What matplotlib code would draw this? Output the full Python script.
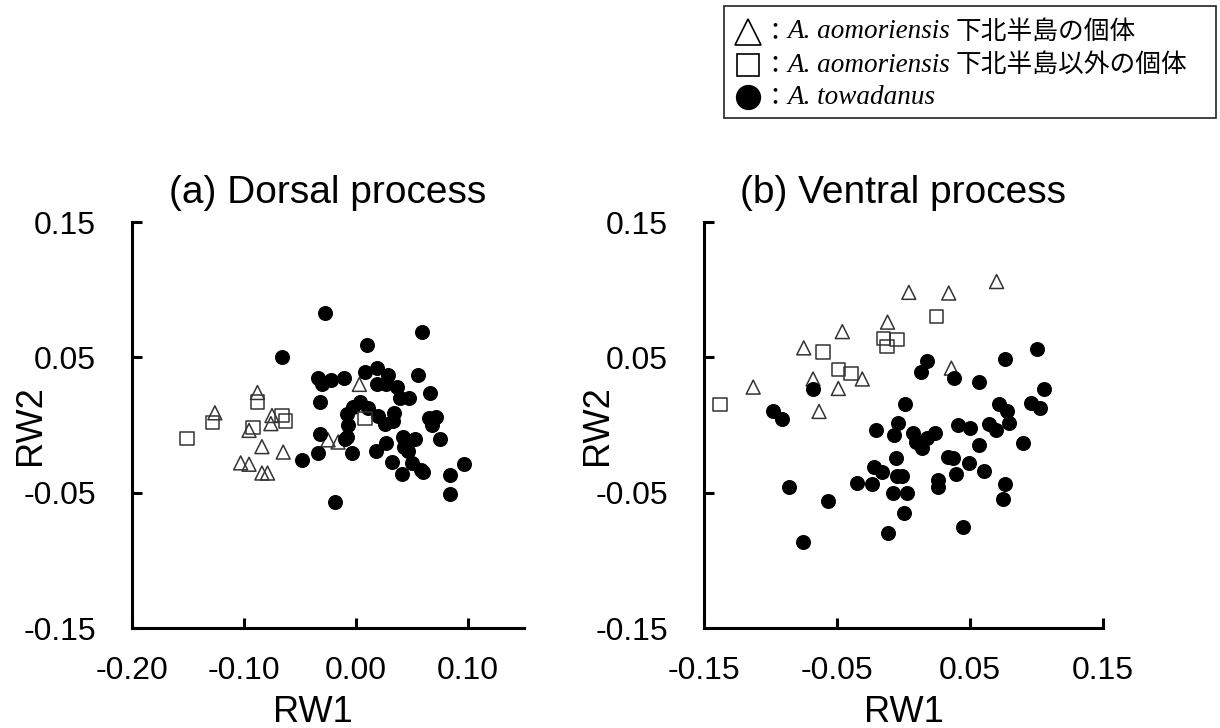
import matplotlib
matplotlib.use("Agg")
import matplotlib.pyplot as plt
from matplotlib.lines import Line2D
from matplotlib.patches import Rectangle

plt.rcParams['font.family'] = ['Liberation Sans', 'DejaVu Sans']
plt.rcParams['axes.unicode_minus'] = False

# (a) Dorsal process
dorsal_shimo_x = [-0.088, -0.126, -0.075, -0.076, -0.0955, -0.084, -0.065, -0.103,
                  -0.0955, -0.084, -0.079, 0.003, -0.025, -0.016]
dorsal_shimo_y = [0.024, 0.009, 0.007, 0.001, -0.004, -0.016, -0.020, -0.028,
                  -0.029, -0.0355, -0.0355, 0.030, -0.011, -0.0126]
dorsal_other_x = [-0.088, -0.128, -0.151, -0.066, -0.063, -0.092, 0.008]
dorsal_other_y = [0.017, 0.002, -0.010, 0.007, 0.003, -0.002, 0.005]
dorsal_towa_x = [-0.028, 0.059, 0.010, -0.066, -0.034, -0.030, -0.022, -0.011, 0.008,
                 0.019, 0.029, 0.019, 0.027, 0.037, 0.039, 0.047, 0.055, 0.066,
                 -0.032, 0.004, -0.003, -0.008, -0.007, -0.008, 0.011, 0.020, 0.026,
                 0.034, 0.033, -0.032, -0.010, 0.042, 0.053, 0.043, 0.046, 0.065,
                 0.071, 0.068, 0.075, 0.027, 0.018, -0.004, -0.034, -0.048, 0.032,
                 0.050, 0.058, 0.060, 0.041, 0.096, 0.084, 0.084, -0.019]
dorsal_towa_y = [0.083, 0.069, 0.059, 0.050, 0.035, 0.030, 0.033, 0.035, 0.039,
                 0.042, 0.037, 0.030, 0.030, 0.028, 0.020, 0.020, 0.037, 0.024,
                 0.017, 0.017, 0.013, 0.008, 0.000, -0.009, 0.0125, 0.007, 0.001,
                 0.009, 0.003, -0.007, -0.010, -0.009, -0.010, -0.016, -0.019, 0.005,
                 0.006, 0.000, -0.010, -0.013, -0.019, -0.021, -0.021, -0.026, -0.027,
                 -0.028, -0.033, -0.035, -0.036, -0.029, -0.037, -0.051, -0.057]

# (b) Ventral process
ventral_shimo_x = [0.070, 0.004, 0.034, -0.012, -0.046, -0.075, -0.031, -0.068,
                   -0.049, -0.113, -0.0635, 0.036]
ventral_shimo_y = [0.106, 0.098, 0.0975, 0.076, 0.069, 0.057, 0.034, 0.034,
                   0.027, 0.028, 0.010, 0.042]
ventral_other_x = [0.025, -0.015, -0.005, -0.0124, -0.0605, -0.049, -0.0395, -0.138]
ventral_other_y = [0.080, 0.064, 0.063, 0.058, 0.054, 0.041, 0.038, 0.015]
ventral_towa_x = [0.018, 0.013, 0.076, 0.100, 0.038, 0.057, -0.068, -0.098, -0.091,
                  0.001, 0.1056, 0.072, 0.078, 0.079, 0.096, 0.103, -0.004, -0.007,
                  -0.021, 0.007, 0.0094, 0.014, 0.018, 0.0237, 0.041, 0.050, 0.064,
                  0.0696, 0.057, 0.090, 0.0335, 0.037, 0.049, 0.0605, 0.0395, -0.0056,
                  -0.022, -0.016, -0.005, -0.001, -0.035, -0.0237, 0.026, 0.026, 0.076,
                  -0.008, 0.0026, -0.086, -0.057, 0.075, 0.0003, 0.0447, -0.0117, -0.0756]
ventral_towa_y = [0.047, 0.039, 0.049, 0.056, 0.035, 0.032, 0.0266, 0.010, 0.0044,
                  0.0155, 0.0266, 0.0155, 0.010, 0.0014, 0.016, 0.0125, 0.0014, -0.0074,
                  -0.0037, -0.006, -0.0126, -0.017, -0.0096, -0.006, 0.000, -0.0023, 0.0007,
                  -0.0037, -0.0148, -0.0133, -0.0237, -0.0244, -0.028, -0.034, -0.036, -0.0244,
                  -0.031, -0.035, -0.0377, -0.0377, -0.043, -0.0437, -0.0407, -0.046, -0.0437,
                  -0.0503, -0.0503, -0.046, -0.056, -0.0547, -0.065, -0.0754, -0.080, -0.0865]

panels = [
    ("(a) Dorsal process", (-0.20, 0.15), [-0.20, -0.10, 0.00, 0.10],
     dorsal_shimo_x, dorsal_shimo_y, dorsal_other_x, dorsal_other_y, dorsal_towa_x, dorsal_towa_y),
    ("(b) Ventral process", (-0.15, 0.15), [-0.15, -0.05, 0.05, 0.15],
     ventral_shimo_x, ventral_shimo_y, ventral_other_x, ventral_other_y, ventral_towa_x, ventral_towa_y),
]
y_ticks = [-0.15, -0.05, 0.05, 0.15]

W, H = 1220, 728
fig = plt.figure(figsize=(W / 100, H / 100), dpi=100)
rects = [[132 / W, 100 / H, 392 / W, 406 / H], [704 / W, 100 / H, 399 / W, 406 / H]]
xlabel_x = [0.462, 0.5]
ylabel_x = [-0.214, -0.223]

for i, (title, xlim, xticks, tx, ty, sx, sy, cx, cy) in enumerate(panels):
    ax = fig.add_axes(rects[i])
    ax.scatter(tx, ty, marker='^', s=100, facecolors='none', edgecolors='#333333',
               linewidths=1.1, zorder=2, clip_on=False)
    ax.scatter(cx, cy, marker='o', s=117, color='black', linewidths=0, zorder=3, clip_on=False)
    ax.scatter(sx, sy, marker='s', s=92, facecolors='none', edgecolors='#333333',
               linewidths=1.1, zorder=4, clip_on=False)
    ax.set_xlim(*xlim)
    ax.set_ylim(-0.15, 0.15)
    ax.set_xticks(xticks)
    ax.set_yticks(y_ticks)
    ax.xaxis.set_major_formatter(matplotlib.ticker.FormatStrFormatter('%.2f'))
    ax.yaxis.set_major_formatter(matplotlib.ticker.FormatStrFormatter('%.2f'))
    for side in ['top', 'right']:
        ax.spines[side].set_visible(False)
    for side in ['left', 'bottom']:
        ax.spines[side].set_linewidth(2.2)
    ax.tick_params(axis='both', direction='in', length=7, width=2.2, labelsize=23)
    ax.tick_params(axis='x', pad=20)
    ax.tick_params(axis='y', pad=26)
    ax.set_title(title, fontsize=28, pad=14)
    ax.set_xlabel('RW1', fontsize=26)
    ax.set_ylabel('RW2', fontsize=26)
    ax.xaxis.set_label_coords(xlabel_x[i], -0.165)
    ax.yaxis.set_label_coords(ylabel_x[i], 0.5)

# legend box
fig.add_artist(Rectangle((724 / W, 1 - 118 / H), 492 / W, 112 / H, transform=fig.transFigure,
                         facecolor='white', edgecolor='#222222', linewidth=1.2))
legend_rows = [
    ('^', 'none', 19, 'A. aomoriensis', '下北半島の個体', 32),
    ('s', 'none', 16, 'A. aomoriensis', '下北半島以外の個体', 65),
    ('o', 'black', 17, 'A. towadanus', '', 97),
]
fig.canvas.draw()
renderer = fig.canvas.get_renderer()
for mk, fc, ms, sp, jp, yc in legend_rows:
    yf = 1 - yc / H
    fig.add_artist(Line2D([748 / W], [yf], transform=fig.transFigure, marker=mk, markersize=ms,
                          markerfacecolor=fc, markeredgecolor='black', markeredgewidth=1.2,
                          linestyle='none'))
    fig.text(762 / W, yf, '：', family=['Noto Sans CJK JP'], fontsize=18, va='center')
    t = fig.text(787 / W, yf, sp, family=['Liberation Serif'], style='italic',
                 fontsize=19.5, va='center')
    if jp:
        bb = t.get_window_extent(renderer)
        fig.text(bb.x1 / W + 6 / W, yf, jp, family=['Noto Sans CJK JP'], fontsize=18.5,
                 va='center')

fig.savefig('out.png', dpi=100)
